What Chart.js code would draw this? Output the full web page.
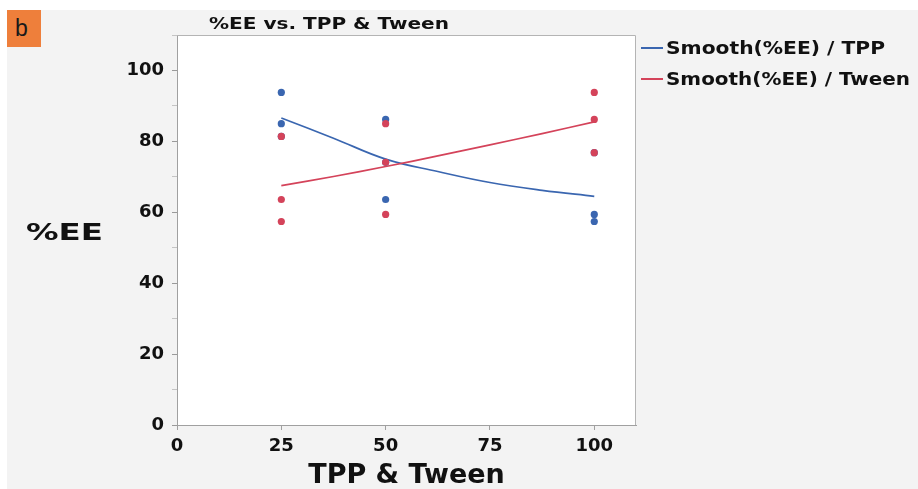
<!DOCTYPE html>
<html>
<head>
<meta charset="utf-8">
<script src="https://cdn.jsdelivr.net/npm/chart.js@4.4.1/dist/chart.umd.min.js"></script>
<style>
  html, body { margin: 0; padding: 0; background: #ffffff; width: 918px; height: 489px; overflow: hidden; }
  #panel { position: absolute; left: 7px; top: 10px; width: 911px; height: 479px; background: #f3f3f3; }
  #wrap { position: absolute; left: 0; top: 0; width: 918px; height: 489px; }
  #badge { position: absolute; left: 7px; top: 10px; width: 34px; height: 37px; background: #ee7f3b;
           font-family: "Liberation Sans", Arial, sans-serif; font-size: 23px; color: #1a1a1a;
           line-height: 37px; text-indent: 8px; }
  .fit { position: absolute; white-space: nowrap; transform-origin: 0 50%;
         font-family: "DejaVu Sans", sans-serif; font-weight: bold; color: #111; }
  #title { left: 209px; top: 14px; font-size: 16px; line-height: 20px; }
  #ylab { left: 26px; top: 218px; font-size: 23px; line-height: 28px; }
  #legend { position: absolute; left: 641px; top: 37px; }
  .litem { position: absolute; left: 0; height: 22px; white-space: nowrap; }
  .lline { position: absolute; left: 0; top: 10px; width: 22px; height: 2px; }
  .ltext { position: absolute; left: 25px; top: 0; font-family: "DejaVu Sans", sans-serif; font-weight: bold;
           font-size: 17px; line-height: 22px; color: #111; transform-origin: 0 50%; }
</style>
</head>
<body>
<div id="panel"></div>
<div id="wrap"><canvas id="c" width="918" height="489"></canvas></div>
<div id="badge">b</div>
<div id="title" class="fit">%EE vs. TPP &amp; Tween</div>
<div id="ylab" class="fit">%EE</div>
<div id="legend"></div>
<script>
// ---- data ----
const levels = [25, 50, 100];                       // TPP & Tween levels (x)
const tppEE = [[93.8, 85.0, 81.4], [86.2, 74.1, 63.6], [76.8, 59.4, 57.4]];   // %EE by TPP level
const tweenEE = [[81.4, 63.6, 57.4], [85.0, 74.1, 59.4], [93.8, 86.2, 76.8]]; // %EE by Tween level
const smoothX = [25, 37.5, 50, 62.5, 75, 87.5, 100];
const smoothTPP = [86.6, 80.9, 75.0, 71.5, 68.4, 66.2, 64.5];
const smoothTween = [67.5, 70.1, 72.9, 75.9, 79.0, 82.2, 85.5];
const legendLabels = ["Smooth(%EE) / TPP", "Smooth(%EE) / Tween"];
const yTickLabels = [0, 20, 40, 60, 80, 100];
const xTickLabels = [0, 25, 50, 75, 100];

const BLUE = "#3a66b0";
const RED = "#d4435a";

function pts(groups) {
  const out = [];
  groups.forEach((g, i) => g.forEach(v => out.push({ x: levels[i], y: v })));
  return out;
}
function line(xs, ys) { return xs.map((x, i) => ({ x: x, y: ys[i] })); }

const plotBg = {
  id: "plotBg",
  beforeDraw(chart) {
    const { ctx, chartArea: a } = chart;
    ctx.save();
    ctx.fillStyle = "#ffffff";
    ctx.fillRect(a.left, a.top, a.right - a.left, a.bottom - a.top);
    ctx.restore();
  },
  afterDraw(chart) {
    const { ctx, chartArea: a } = chart;
    ctx.save();
    ctx.strokeStyle = "#b4b4b4";
    ctx.lineWidth = 1;
    ctx.beginPath();
    ctx.moveTo(a.left, a.top + 0.5);
    ctx.lineTo(a.right - 0.5, a.top + 0.5);
    ctx.lineTo(a.right - 0.5, a.bottom);
    ctx.stroke();
    ctx.restore();
  }
};

const tickFont = { family: "DejaVu Sans", weight: "bold", size: 18 };

const chart = new Chart(document.getElementById("c"), {
  type: "scatter",
  data: {
    datasets: [
      { label: "Tween", data: pts(tweenEE), backgroundColor: RED, borderColor: RED,
        pointRadius: 3.6, pointHoverRadius: 3.6, borderWidth: 0, order: 1 },
      { label: "TPP", data: pts(tppEE), backgroundColor: BLUE, borderColor: BLUE,
        pointRadius: 3.6, pointHoverRadius: 3.6, borderWidth: 0, order: 2 },
      { type: "line", label: legendLabels[1], data: line(smoothX, smoothTween), borderColor: RED,
        backgroundColor: RED, borderWidth: 1.7, pointRadius: 0, tension: 0.4,
        fill: false, showInLegend: true, order: 3 },
      { type: "line", label: legendLabels[0], data: line(smoothX, smoothTPP), borderColor: BLUE,
        backgroundColor: BLUE, borderWidth: 1.7, pointRadius: 0, tension: 0.4,
        fill: false, showInLegend: true, order: 4 }
    ]
  },
  options: {
    responsive: false,
    animation: false,
    devicePixelRatio: 1,
    layout: { padding: { left: 0, top: 35, right: 282, bottom: 0 } },
    plugins: { legend: { display: false }, tooltip: { enabled: false }, title: { display: false } },
    scales: {
      x: {
        type: "linear", min: 0, max: 110,
        afterFit(s) { s.height = 64; },
        grid: { drawOnChartArea: false, drawTicks: true, tickLength: 5, tickColor: "#a0a0a0" },
        border: { color: "#a0a0a0", width: 1 },
        ticks: { stepSize: 25, includeBounds: false, padding: 6, color: "#111", font: tickFont,
                 maxRotation: 0,
                 callback: v => (xTickLabels.includes(v) ? String(v) : "") },
        title: { display: true, text: "TPP & Tween", color: "#111", padding: 0,
                 font: { family: "DejaVu Sans", weight: "bold", size: 27, lineHeight: 1 } }
      },
      y: {
        type: "linear", min: 0, max: 110,
        afterFit(s) { s.width = 177; },
        grid: { drawOnChartArea: false, drawTicks: true, tickLength: 5,
                tickColor: c => (c.tick && c.tick.value % 20 === 0 ? "#9a9a9a" : "#c4c4c4") },
        border: { color: "#a0a0a0", width: 1 },
        ticks: { stepSize: 10, padding: 8, color: "#111", font: tickFont,
                 callback: v => (yTickLabels.includes(v) ? String(v) : "") }
      }
    }
  },
  plugins: [plotBg]
});

// HTML legend built from the chart's own line datasets
const legend = document.getElementById("legend");
chart.data.datasets
  .filter(ds => ds.showInLegend)
  .sort((a, b) => legendLabels.indexOf(a.label) - legendLabels.indexOf(b.label))
  .forEach((ds, i) => {
    const item = document.createElement("div");
    item.className = "litem";
    item.style.top = (i * 31) + "px";
    const ln = document.createElement("div");
    ln.className = "lline";
    ln.style.background = ds.borderColor;
    const tx = document.createElement("div");
    tx.className = "ltext";
    tx.textContent = ds.label;
    tx.dataset.w = i === 0 ? 219 : 244;
    item.appendChild(ln); item.appendChild(tx);
    legend.appendChild(item);
  });

function fitWidth(el, target) {
  const w = el.getBoundingClientRect().width;
  if (w > 0) el.style.transform = "scaleX(" + (target / w) + ")";
}
fitWidth(document.getElementById("title"), 240);
fitWidth(document.getElementById("ylab"), 77);
document.querySelectorAll(".ltext").forEach(el => fitWidth(el, +el.dataset.w));
</script>
</body>
</html>
